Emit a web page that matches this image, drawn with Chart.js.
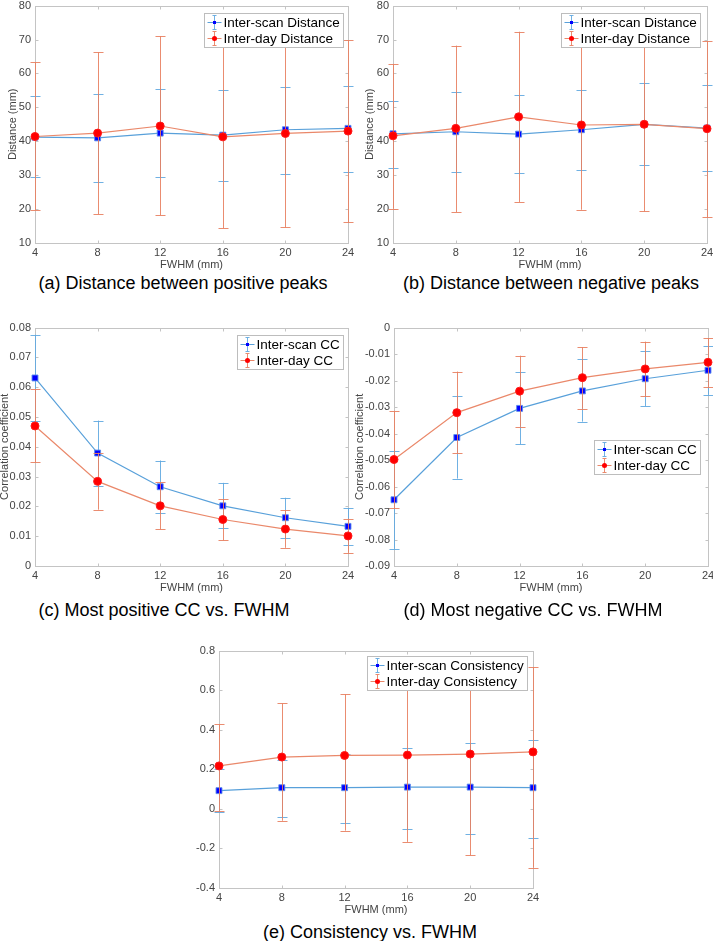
<!DOCTYPE html>
<html>
<head>
<meta charset="utf-8">
<script src="https://cdn.jsdelivr.net/npm/chart.js@4.4.1/dist/chart.umd.min.js"></script>
<style>
    html, body { margin: 0; padding: 0; background: #fff; }
    body { width: 713px; height: 941px; position: relative; overflow: hidden; font-family: "Liberation Sans", Arial, sans-serif; }
    canvas { position: absolute; }
    .caption { position: absolute; font-size: 18px; color: #000; white-space: nowrap; transform: translate(-50%, -50%); }
</style>
</head>
<body>
<script>
// FWHM values shared by every panel
const fwhm = [4, 8, 12, 16, 20, 24];

// (a) distance between positive peaks
const distPosScanMean = [41.2, 41.0, 42.4, 41.8, 43.4, 43.8];
const distPosScanLow  = [29.5, 28.0, 29.5, 28.3, 30.4, 31.0];
const distPosScanHigh = [53.3, 54.0, 55.5, 55.0, 56.1, 56.4];
const distPosDayMean  = [41.4, 42.4, 44.5, 41.3, 42.3, 43.0];
const distPosDayLow   = [19.7, 18.5, 18.2, 14.4, 14.6, 16.1];
const distPosDayHigh  = [63.3, 66.2, 71.0, 68.1, 70.0, 69.8];

// (b) distance between negative peaks
const distNegScanMean = [42.2, 42.8, 42.1, 43.4, 45.0, 43.9];
const distNegScanLow  = [32.2, 31.0, 30.5, 31.6, 32.9, 31.1];
const distNegScanHigh = [52.0, 54.6, 53.6, 55.2, 57.1, 56.6];
const distNegDayMean  = [41.6, 43.8, 47.2, 44.8, 45.0, 43.7];
const distNegDayLow   = [20.1, 19.1, 22.1, 19.8, 19.3, 17.6];
const distNegDayHigh  = [62.8, 68.2, 72.3, 70.0, 70.5, 69.5];

// (c) most positive CC
const ccPosScanMean = [0.0631, 0.0379, 0.0266, 0.0202, 0.0162, 0.0133];
const ccPosScanLow  = [0.0487, 0.0268, 0.0178, 0.0128, 0.0094, 0.0071];
const ccPosScanHigh = [0.0776, 0.0488, 0.0354, 0.0279, 0.0229, 0.0194];
const ccPosDayMean  = [0.0470, 0.0284, 0.0202, 0.0156, 0.0124, 0.0101];
const ccPosDayLow   = [0.0348, 0.0189, 0.0123, 0.0086, 0.0061, 0.0044];
const ccPosDayHigh  = [0.0593, 0.0380, 0.0281, 0.0224, 0.0187, 0.0159];

// (d) most negative CC
const ccNegScanMean = [-0.0650, -0.0415, -0.0305, -0.0239, -0.0193, -0.0161];
const ccNegScanLow  = [-0.0835, -0.0570, -0.0440, -0.0355, -0.0296, -0.0254];
const ccNegScanHigh = [-0.0465, -0.0260, -0.0169, -0.0120, -0.0090, -0.0070];
const ccNegDayMean  = [-0.0498, -0.0321, -0.0240, -0.0189, -0.0156, -0.0131];
const ccNegDayLow   = [-0.0681, -0.0475, -0.0374, -0.0306, -0.0259, -0.0224];
const ccNegDayHigh  = [-0.0314, -0.0166, -0.0106, -0.0074, -0.0053, -0.0040];

// (e) consistency
const consScanMean = [0.092, 0.107, 0.107, 0.110, 0.110, 0.107];
const consScanLow  = [-0.017, -0.042, -0.070, -0.102, -0.125, -0.148];
const consScanHigh = [0.200, 0.248, 0.277, 0.308, 0.332, 0.347];
const consDayMean  = [0.217, 0.262, 0.270, 0.272, 0.277, 0.288];
const consDayLow   = [-0.010, -0.060, -0.110, -0.167, -0.235, -0.297];
const consDayHigh  = [0.428, 0.533, 0.580, 0.640, 0.700, 0.717];

const FONT = '"Liberation Sans", Arial, sans-serif';
const TICK_COLOR = '#444';
const BLUE_LINE = 'rgb(88,160,218)';
const BLUE_ERR = 'rgba(96,168,224,0.9)';
const RED_LINE = 'rgb(234,136,106)';
const RED_ERR = 'rgba(232,128,96,0.9)';

// 每个子图的位置（页面坐标）和设置
const panels = [
    { plot: [35, 3, 348, 243], yMin: 10, yMax: 80, yStep: 10, yTitle: 'Distance (mm)', yAxisW: 29,
      scan: [distPosScanMean, distPosScanLow, distPosScanHigh], day: [distPosDayMean, distPosDayLow, distPosDayHigh],
      labels: ['Inter-scan Distance', 'Inter-day Distance'], legend: { right: 5, top: 7 },
      caption: '(a) Distance between positive peaks', capX: 183, capY: 283 },
    { plot: [393, 3, 707, 243], yMin: 10, yMax: 80, yStep: 10, yTitle: 'Distance (mm)', yAxisW: 30,
      scan: [distNegScanMean, distNegScanLow, distNegScanHigh], day: [distNegDayMean, distNegDayLow, distNegDayHigh],
      labels: ['Inter-scan Distance', 'Inter-day Distance'], legend: { right: 7, top: 7 },
      caption: '(b) Distance between negative peaks', capX: 551, capY: 283 },
    { plot: [35, 325, 348, 566], yMin: 0, yMax: 0.08, yStep: 0.01, yTitle: 'Correlation coefficient', yAxisW: 37,
      scan: [ccPosScanMean, ccPosScanLow, ccPosScanHigh], day: [ccPosDayMean, ccPosDayLow, ccPosDayHigh],
      labels: ['Inter-scan CC', 'Inter-day CC'], legend: { right: 5, top: 7 },
      caption: '(c) Most positive CC vs. FWHM', capX: 164, capY: 610 },
    { plot: [394, 325, 708, 566], yMin: -0.09, yMax: 0, yStep: 0.01, yTitle: 'Correlation coefficient', yAxisW: 41,
      scan: [ccNegScanMean, ccNegScanLow, ccNegScanHigh], day: [ccNegDayMean, ccNegDayLow, ccNegDayHigh],
      labels: ['Inter-scan CC', 'Inter-day CC'], legend: { right: 8, top: 112 },
      caption: '(d) Most negative CC vs. FWHM', capX: 533, capY: 610 },
    { plot: [219, 648, 533, 888], yMin: -0.4, yMax: 0.8, yStep: 0.2, yTitle: '', yAxisW: 30,
      scan: [consScanMean, consScanLow, consScanHigh], day: [consDayMean, consDayLow, consDayHigh],
      labels: ['Inter-scan Consistency', 'Inter-day Consistency'], legend: { right: 6, top: 5 },
      caption: '(e) Consistency vs. FWHM', capX: 370, capY: 932 }
];

// 误差线：在每个数据集绘制之前画
const errorBarPlugin = {
    id: 'errorBars',
    beforeDatasetDraw(chart, args) {
        const ds = chart.data.datasets[args.index];
        const yScale = chart.scales.y;
        const ctx = chart.ctx;
        ctx.save();
        ctx.strokeStyle = ds.errColor;
        ctx.lineWidth = 1;
        args.meta.data.forEach((pt, i) => {
            const x = Math.round(pt.x) + 0.5;
            const yLo = yScale.getPixelForValue(ds.errLow[i]);
            const yHi = yScale.getPixelForValue(ds.errHigh[i]);
            ctx.beginPath();
            ctx.moveTo(x, yLo);
            ctx.lineTo(x, yHi);
            ctx.moveTo(x - 5, Math.round(yLo) + 0.5);
            ctx.lineTo(x + 5, Math.round(yLo) + 0.5);
            ctx.moveTo(x - 5, Math.round(yHi) + 0.5);
            ctx.lineTo(x + 5, Math.round(yHi) + 0.5);
            ctx.stroke();
        });
        ctx.restore();
    }
};

// 坐标框和向内的刻度
const boxPlugin = {
    id: 'matlabBox',
    beforeDatasetsDraw(chart) {
        const { ctx, chartArea: a, scales } = chart;
        const L = Math.round(a.left) + 0.5, R = Math.round(a.right) + 0.5;
        const T = Math.round(a.top) + 0.5, B = Math.round(a.bottom) + 0.5;
        ctx.save();
        ctx.strokeStyle = '#c4c4c4';
        ctx.lineWidth = 1;
        ctx.strokeRect(L, T, R - L, B - T);
        ctx.beginPath();
        scales.x.ticks.forEach(t => {
            const x = Math.round(scales.x.getPixelForValue(t.value)) + 0.5;
            ctx.moveTo(x, B); ctx.lineTo(x, B - 3);
            ctx.moveTo(x, T); ctx.lineTo(x, T + 3);
        });
        scales.y.ticks.forEach(t => {
            const y = Math.round(scales.y.getPixelForValue(t.value)) + 0.5;
            ctx.moveTo(L, y); ctx.lineTo(L + 3, y);
            ctx.moveTo(R, y); ctx.lineTo(R - 3, y);
        });
        ctx.stroke();
        ctx.restore();
    }
};

// 图例：画在坐标区内部
const legendPlugin = {
    id: 'insideLegend',
    afterDatasetsDraw(chart, args, opts) {
        const { ctx, chartArea } = chart;
        const sets = chart.data.datasets;
        ctx.save();
        ctx.font = '13.5px ' + FONT;
        const tw = Math.max(...sets.map(d => ctx.measureText(d.label).width));
        const w = Math.round(19 + tw + 4), h = 34;
        const x0 = Math.round(chartArea.right - opts.right - w) + 0.5;
        const y0 = Math.round(chartArea.top + opts.top) + 0.5;
        ctx.fillStyle = '#fff';
        ctx.fillRect(x0, y0, w, h);
        ctx.strokeStyle = '#bdbdbd';
        ctx.lineWidth = 1;
        ctx.strokeRect(x0, y0, w, h);
        sets.forEach((d, i) => {
            const cy = y0 + 9 + i * 16;
            const cx = x0 + 10;
            ctx.strokeStyle = d.borderColor;
            ctx.beginPath();
            ctx.moveTo(x0 + 3, cy); ctx.lineTo(x0 + 17, cy);
            ctx.stroke();
            ctx.strokeStyle = d.errColor;
            ctx.beginPath();
            ctx.moveTo(cx, cy - 7); ctx.lineTo(cx, cy + 7);
            ctx.moveTo(cx - 2, cy - 7); ctx.lineTo(cx + 2, cy - 7);
            ctx.moveTo(cx - 2, cy + 7); ctx.lineTo(cx + 2, cy + 7);
            ctx.stroke();
            ctx.fillStyle = d.pointBackgroundColor;
            ctx.beginPath();
            if (d.pointStyle === 'rect') {
                ctx.fillRect(cx - 1.5, cy - 1.5, 3, 3);
            } else {
                ctx.arc(cx, cy, 2.5, 0, Math.PI * 2);
                ctx.fill();
            }
            ctx.fillStyle = '#000';
            ctx.textBaseline = 'middle';
            ctx.textAlign = 'left';
            ctx.fillText(d.label, x0 + 19, cy + 1);
        });
        ctx.restore();
    }
};

const PAD_T = 8, PAD_R = 12, AXIS_H = 29;

function toPoints(ys) {
    return fwhm.map((x, i) => ({ x: x, y: ys[i] }));
}

panels.forEach(p => {
    const [l, t, r, b] = p.plot;
    const W = p.yAxisW;
    const cw = W + (r - l) + PAD_R;
    const ch = PAD_T + (b - t) + AXIS_H;
    const canvas = document.createElement('canvas');
    canvas.width = cw;
    canvas.height = ch;
    canvas.style.width = cw + 'px';
    canvas.style.height = ch + 'px';
    canvas.style.left = (l - W) + 'px';
    canvas.style.top = (t - PAD_T) + 'px';
    document.body.appendChild(canvas);

    const cap = document.createElement('div');
    cap.className = 'caption';
    cap.textContent = p.caption;
    cap.style.left = p.capX + 'px';
    cap.style.top = p.capY + 'px';
    document.body.appendChild(cap);

    new Chart(canvas, {
        type: 'line',
        data: {
            datasets: [{
                label: p.labels[0],
                data: toPoints(p.scan[0]),
                errLow: p.scan[1],
                errHigh: p.scan[2],
                errColor: BLUE_ERR,
                borderColor: BLUE_LINE,
                borderWidth: 1.2,
                pointStyle: 'rect',
                pointRadius: 4.2,
                pointBackgroundColor: '#0000ff',
                pointBorderColor: 'rgba(90,140,235,0.9)',
                pointBorderWidth: 1,
                clip: false,
                order: 1
            }, {
                label: p.labels[1],
                data: toPoints(p.day[0]),
                errLow: p.day[1],
                errHigh: p.day[2],
                errColor: RED_ERR,
                borderColor: RED_LINE,
                borderWidth: 1.2,
                pointStyle: 'circle',
                pointRadius: 4,
                pointBackgroundColor: '#ff0000',
                pointBorderColor: '#ff1a1a',
                pointBorderWidth: 1,
                clip: false,
                order: 0
            }]
        },
        options: {
            responsive: false,
            devicePixelRatio: 1,
            animation: false,
            layout: { padding: { top: PAD_T, right: PAD_R, left: 0, bottom: 0 } },
            plugins: {
                legend: { display: false },
                tooltip: { enabled: false },
                insideLegend: p.legend
            },
            scales: {
                x: {
                    type: 'linear',
                    min: 4,
                    max: 24,
                    grid: { display: false, drawTicks: false },
                    border: { display: false },
                    ticks: { stepSize: 4, color: TICK_COLOR, font: { family: FONT, size: 11 }, padding: 3, maxRotation: 0 },
                    title: { display: true, text: 'FWHM (mm)', color: TICK_COLOR, font: { family: FONT, size: 11 }, padding: 0 },
                    afterFit: s => { s.height = AXIS_H; }
                },
                y: {
                    type: 'linear',
                    min: p.yMin,
                    max: p.yMax,
                    grid: { display: false, drawTicks: false },
                    border: { display: false },
                    ticks: {
                        stepSize: p.yStep,
                        color: TICK_COLOR,
                        font: { family: FONT, size: 11 },
                        padding: 4,
                        callback: v => String(Math.round(v * 1e6) / 1e6)
                    },
                    title: { display: p.yTitle !== '', text: p.yTitle, color: TICK_COLOR, font: { family: FONT, size: 11 }, padding: 0 },
                    afterFit: s => { s.width = W; }
                }
            }
        },
        plugins: [boxPlugin, errorBarPlugin, legendPlugin]
    });
});
</script>
</body>
</html>
